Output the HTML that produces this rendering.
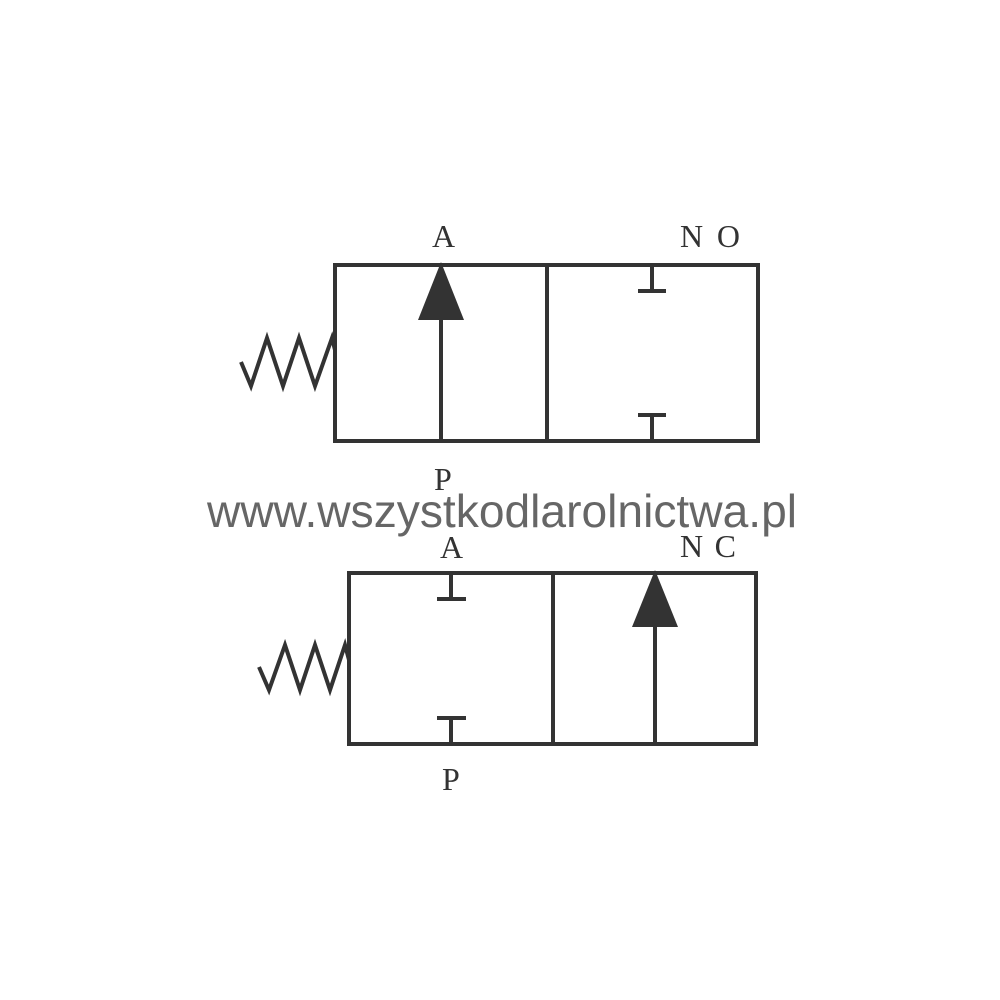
<!DOCTYPE html>
<html><head><style>html,body{margin:0;padding:0;background:#fff}svg{display:block}</style></head><body>
<svg width="1000" height="1000" viewBox="0 0 1000 1000" xmlns="http://www.w3.org/2000/svg">
<g fill="none" stroke="#333" stroke-width="4">
<rect x="335" y="265" width="423" height="176"/>
<line x1="547" y1="265" x2="547" y2="441"/>
<line x1="441" y1="300" x2="441" y2="441"/>
<line x1="652" y1="265" x2="652" y2="291"/>
<line x1="638" y1="291" x2="666" y2="291"/>
<line x1="638" y1="415" x2="666" y2="415"/>
<line x1="652" y1="415" x2="652" y2="441"/>
<polyline points="241,362 251,386 267,338 283,386 299,338 315,386 332,338 335,350"/>
<rect x="349" y="573" width="407" height="171"/>
<line x1="553" y1="573" x2="553" y2="744"/>
<line x1="655" y1="610" x2="655" y2="744"/>
<line x1="451" y1="573" x2="451" y2="599"/>
<line x1="437" y1="599" x2="466" y2="599"/>
<line x1="437" y1="718" x2="466" y2="718"/>
<line x1="451" y1="718" x2="451" y2="744"/>
<polyline points="259,667 269,690 285,645 300,690 315,645 330,690 345,645 349,660"/>
</g>
<polygon points="441,262 418,320 464,320" fill="#333"/>
<polygon points="655,570 632,627 678,627" fill="#333"/>
<g font-family="Liberation Serif, serif" font-size="32" fill="#333">
<text x="432" y="247">A</text>
<text x="680" y="247" textLength="60" lengthAdjust="spacing">NO</text>
<text x="434" y="490">P</text>
<text x="440" y="558">A</text>
<text x="680" y="557" textLength="56" lengthAdjust="spacing">NC</text>
<text x="442" y="790">P</text>
</g>
<text x="207" y="527" font-family="Liberation Sans, sans-serif" font-size="46" fill="#555" fill-opacity="0.9" textLength="590" lengthAdjust="spacingAndGlyphs">www.wszystkodlarolnictwa.pl</text>
</svg>
</body></html>
